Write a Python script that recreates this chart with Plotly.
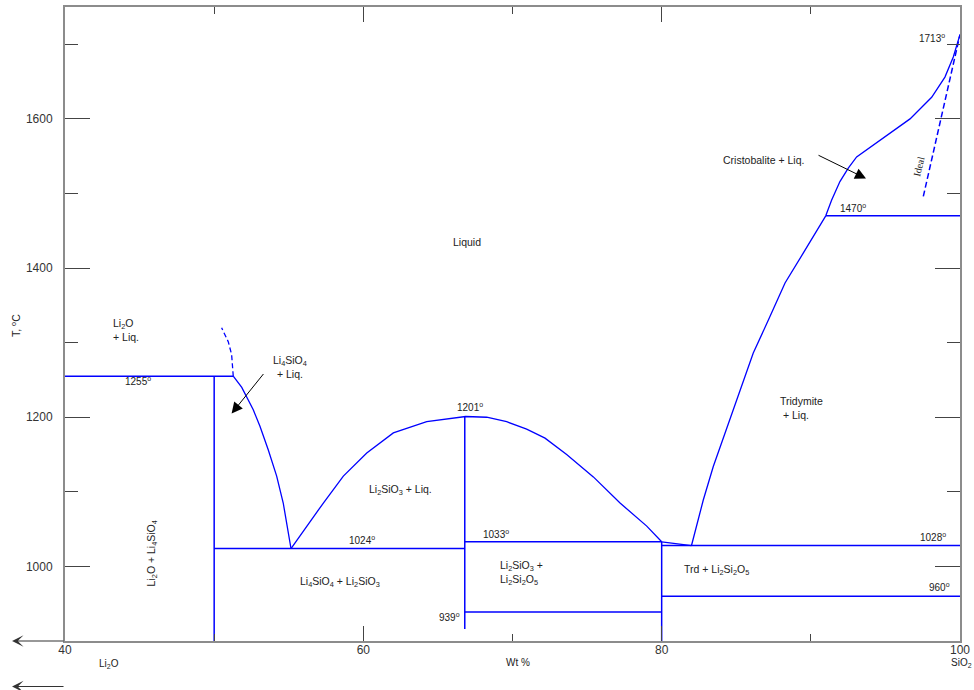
import plotly.graph_objects as go

# ---------------- data (wt % SiO2, temperature °C) ----------------
# Li4SiO4 liquidus, from the 1255° point down to the 1024° eutectic
li4_liq_x = [51.28, 51.85, 52.62, 53.07, 53.63, 54.19, 54.63, 55.15]
li4_liq_y = [1255, 1240, 1210, 1188, 1156, 1121, 1085, 1024]
# uncertain (dashed) continuation above 1255°
li4_dash_x = [51.28, 51.17, 50.95, 50.50]
li4_dash_y = [1255, 1284, 1301, 1320]
# Li2SiO3 liquidus (congruent melting at 1201°)
li2_liq_x = [55.15, 56.20, 57.32, 58.66, 60.23, 62.01, 64.25, 66.86,
             68.27, 69.61, 70.95, 72.18, 73.63, 75.42, 77.21, 79.00, 80.00]
li2_liq_y = [1024, 1054, 1085, 1121, 1152, 1179, 1194, 1201,
             1200, 1194, 1184, 1172, 1150, 1120, 1085, 1054, 1033]
# Li2Si2O5 liquidus (short segment to the 1028° eutectic)
ls2_liq_x = [80.0, 82.0]
ls2_liq_y = [1033, 1028]
# Tridymite liquidus
trd_liq_x = [82.00, 82.79, 83.46, 84.47, 85.37, 86.14, 87.26, 88.27, 89.49, 91.00]
trd_liq_y = [1028, 1089, 1134, 1192, 1241, 1286, 1335, 1380, 1420, 1470]
# Cristobalite liquidus up to SiO2 melting point 1713°
cri_liq_x = [91.00, 91.39, 91.95, 92.51, 93.07, 94.19, 95.53, 96.65, 98.10, 98.99, 99.55, 100.0]
cri_liq_y = [1470, 1491, 1516, 1534, 1549, 1565, 1583, 1600, 1629, 1656, 1683, 1713]
# ideal liquidus
ideal_x = [97.54, 100.0]
ideal_y = [1496, 1713]

# isotherms
iso_x0 = [40.0, 50.0, 66.8, 66.8, 80.0, 80.0, 91.0]
iso_x1 = [51.28, 66.8, 80.0, 80.0, 100.0, 100.0, 100.0]
iso_T = [1255, 1024, 1033, 939, 1028, 960, 1470]

# compound (vertical) lines
cmp_x = [50.0, 66.8, 80.0]
cmp_T_top = [1255, 1201, 1033]
cmp_T_bot = [900, 916, 900]

# axis ticks
x_tickvals = [40, 60, 80, 100]
y_tickvals = [1000, 1200, 1400, 1600]

# temperature labels
temp_text = ["1255", "1024", "1201", "939", "1033", "1028", "960", "1470", "1713"]
temp_x = [44.89, 59.89, 67.15, 65.78, 68.92, 98.17, 98.61, 92.80, 98.14]
temp_y = [1248, 1036, 1214, 932, 1044, 1039, 972, 1480, 1708]

# phase field labels
field_text = ["Li<sub>2</sub>SiO<sub>3</sub> + Liq.",
              "Li<sub>4</sub>SiO<sub>4</sub> + Li<sub>2</sub>SiO<sub>3</sub>",
              "Trd + Li<sub>2</sub>Si<sub>2</sub>O<sub>5</sub>",
              "Liquid",
              "Cristobalite + Liq.",
              "Li<sub>4</sub>SiO<sub>4</sub><br>+ Liq."]
field_x = [62.51, 58.43, 83.69, 66.96, 86.81, 55.08]
field_y = [1102, 979, 995, 1435, 1545, 1267]
left_text = ["Li<sub>2</sub>O<br>+ Liq.",
             "Li<sub>2</sub>SiO<sub>3</sub> +<br>Li<sub>2</sub>Si<sub>2</sub>O<sub>5</sub>",
             "Tridymite<br>\u00a0+ Liq."]
left_x = [43.08, 69.05, 87.82]
left_y = [1317, 991, 1213]

BLUE = "#0000ff"
FONT = "Liberation Sans, Arial, sans-serif"
TXT = "#222222"

fig = go.Figure()


def add_line(x, y, width=1.3, dash=None):
    fig.add_trace(go.Scatter(x=x, y=y, mode="lines",
                             line=dict(color=BLUE, width=width, dash=dash),
                             showlegend=False, hoverinfo="skip"))


# isotherms
hx, hy = [], []
for a, b, t in zip(iso_x0, iso_x1, iso_T):
    hx += [a, b, None]
    hy += [t, t, None]
add_line(hx, hy, width=1.5)

# compound verticals
vx, vy = [], []
for c, t0, t1 in zip(cmp_x, cmp_T_top, cmp_T_bot):
    vx += [c, c, None]
    vy += [t0, t1, None]
add_line(vx, vy, width=1.5)

# liquidus curves
add_line(li4_liq_x, li4_liq_y)
add_line(li4_dash_x, li4_dash_y, dash="5px,3px")
add_line(li2_liq_x, li2_liq_y)
add_line(ls2_liq_x, ls2_liq_y)
add_line(trd_liq_x, trd_liq_y)
add_line(cri_liq_x, cri_liq_y)
add_line(ideal_x, ideal_y, width=1.5, dash="6px,3px")

ann = []
for t, x, y in zip(temp_text, temp_x, temp_y):
    ann.append(dict(x=x, y=y, text=t + "<sup>o</sup>", showarrow=False,
                    font=dict(size=10, color=TXT, family=FONT)))
for t, x, y in zip(field_text, field_x, field_y):
    ann.append(dict(x=x, y=y, text=t, showarrow=False, align="center",
                    font=dict(size=10.5, color=TXT, family=FONT)))
for t, x, y in zip(left_text, left_x, left_y):
    ann.append(dict(x=x, y=y, text=t, showarrow=False, align="left", xanchor="left",
                    font=dict(size=10.5, color=TXT, family=FONT)))

# Li2O + Li4SiO4 rotated label
ann.append(dict(x=45.81, y=1017, text="Li<sub>2</sub>O + Li<sub>4</sub>SiO<sub>4</sub>",
                textangle=-90, showarrow=False,
                font=dict(size=10.5, color=TXT, family=FONT)))
# Ideal label
ann.append(dict(x=97.25, y=1536, text="Ideal", textangle=-77, showarrow=False,
                font=dict(size=10, color=TXT, family="Liberation Serif, Times New Roman, serif")))

# pointer arrows
ann.append(dict(x=51.17, y=1205, ax=33, ay=-41, text="", showarrow=True,
                arrowhead=2, arrowsize=2.2, arrowwidth=1, arrowcolor="#000000"))
ann.append(dict(x=93.70, y=1520, ax=-49, ay=-24, text="", showarrow=True,
                arrowhead=2, arrowsize=2.2, arrowwidth=1, arrowcolor="#000000"))

# axis titles / end-member labels (outside the plot area)
paper_lbl = dict(xref="paper", yref="paper", xanchor="center", yanchor="middle", showarrow=False)
ann.append(dict(x=0.506, y=-0.034, text="Wt %",
                font=dict(size=10, color=TXT, family=FONT), **paper_lbl))
ann.append(dict(x=0.0488, y=-0.0357, text="Li<sub>2</sub>O",
                font=dict(size=10, color=TXT, family=FONT), **paper_lbl))
ann.append(dict(x=1.0017, y=-0.0347, text="SiO<sub>2</sub>",
                font=dict(size=10, color=TXT, family=FONT), **paper_lbl))
ann.append(dict(x=-0.0559, y=0.4984, text="T, <sup>o</sup>C", textangle=-90,
                font=dict(size=10.5, color=TXT, family=FONT), **paper_lbl))

# arrows in the left margin
ann.append(dict(xref="paper", yref="paper", x=-0.0592, y=0.0, ax=53, ay=0, text="",
                showarrow=True, arrowhead=3, arrowsize=1.6, arrowwidth=1.2, arrowcolor="#333333"))
ann.append(dict(xref="paper", yref="paper", x=-0.0592, y=-0.0718, ax=53, ay=0, text="",
                showarrow=True, arrowhead=3, arrowsize=1.6, arrowwidth=1.2, arrowcolor="#333333"))

axis_common = dict(showline=True, linecolor="#8c8c8c", linewidth=2, mirror="allticks",
                   ticks="inside", tickcolor="#444444", tickwidth=1,
                   showgrid=False, zeroline=False, automargin=False,
                   tickfont=dict(size=12, color="#333333", family=FONT))

fig.update_layout(
    width=974, height=690,
    margin=dict(l=65, r=14, t=7, b=49, autoexpand=False),
    paper_bgcolor="white", plot_bgcolor="white",
    xaxis=dict(range=[40, 100], tickvals=x_tickvals, ticklen=15, ticklabelstandoff=-3,
               minor=dict(dtick=10, tick0=40, ticks="inside", ticklen=7, tickcolor="#444444"),
               **axis_common),
    yaxis=dict(range=[900, 1750], tickvals=y_tickvals, ticklen=25, ticklabelstandoff=8,
               minor=dict(dtick=100, tick0=900, ticks="inside", ticklen=13, tickcolor="#444444"),
               **axis_common),
    annotations=ann,
)

fig.write_html("out.html", config={"displayModeBar": False},
               post_script="document.body.style.margin='0px';document.body.style.overflow='hidden';")
